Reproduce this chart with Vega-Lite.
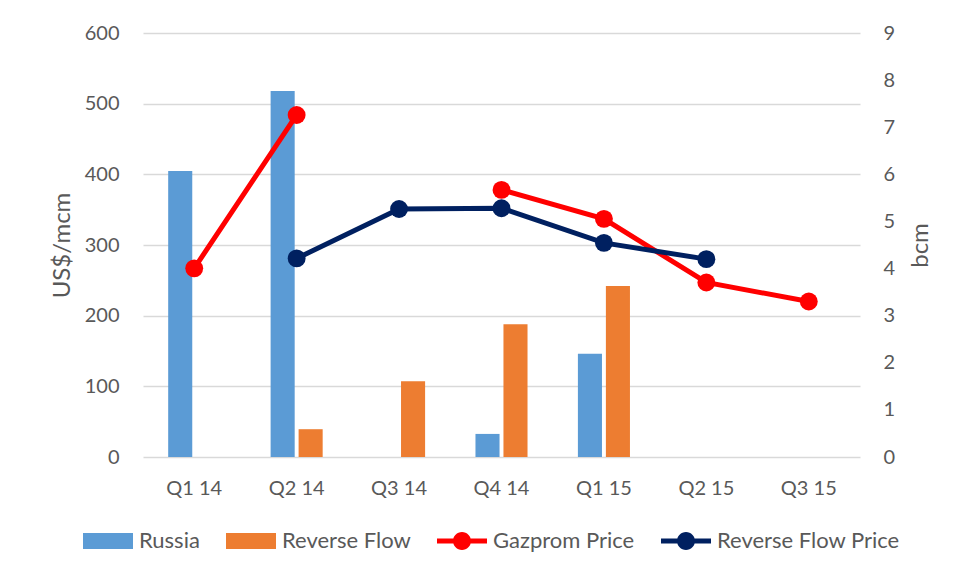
{
  "$schema": "https://vega.github.io/schema/vega-lite/v6.json",
  "width": 717,
  "height": 424,
  "autosize": "none",
  "padding": {"left": 143, "top": 33, "right": 97, "bottom": 118},
  "background": "white",
  "config": {
    "font": "Lato",
    "view": {"stroke": null},
    "axis": {
      "labelFont": "Lato",
      "labelFontSize": 20,
      "labelColor": "#595959",
      "titleFont": "Lato",
      "titleFontSize": 24,
      "titleFontWeight": "normal",
      "titleColor": "#595959",
      "ticks": false,
      "domain": false,
      "gridColor": "#d9d9d9",
      "gridWidth": 1.5
    }
  },
  "data": {
    "values": [
      {"q": "Q1 14", "Russia": 6.07, "Reverse Flow": null, "Gazprom Price": 267, "Reverse Flow Price": null},
      {"q": "Q2 14", "Russia": 7.77, "Reverse Flow": 0.59, "Gazprom Price": 484, "Reverse Flow Price": 281},
      {"q": "Q3 14", "Russia": null, "Reverse Flow": 1.61, "Gazprom Price": null, "Reverse Flow Price": 351},
      {"q": "Q4 14", "Russia": 0.49, "Reverse Flow": 2.82, "Gazprom Price": 378, "Reverse Flow Price": 352},
      {"q": "Q1 15", "Russia": 2.19, "Reverse Flow": 3.63, "Gazprom Price": 337, "Reverse Flow Price": 303},
      {"q": "Q2 15", "Russia": null, "Reverse Flow": null, "Gazprom Price": 247, "Reverse Flow Price": 280},
      {"q": "Q3 15", "Russia": null, "Reverse Flow": null, "Gazprom Price": 220, "Reverse Flow Price": null}
    ]
  },
  "transform": [
    {"fold": ["Russia", "Reverse Flow", "Gazprom Price", "Reverse Flow Price"], "as": ["series", "value"]}
  ],
  "encoding": {
    "x": {
      "field": "q",
      "type": "nominal",
      "sort": null,
      "scale": {"paddingInner": 0, "paddingOuter": 0},
      "axis": {"title": null, "labelAngle": 0, "labelPadding": 21, "grid": false}
    }
  },
  "layer": [
    {
      "transform": [{"filter": "datum.series === 'Russia' || datum.series === 'Reverse Flow'"}],
      "mark": {"type": "bar"},
      "encoding": {
        "xOffset": {
          "field": "series",
          "type": "nominal",
          "sort": ["Russia", "Reverse Flow"],
          "scale": {"domain": ["Russia", "Reverse Flow"], "paddingInner": 0.14, "paddingOuter": 0.9}
        },
        "y": {
          "field": "value",
          "type": "quantitative",
          "scale": {"domain": [0, 9], "nice": false},
          "axis": {"orient": "right", "title": "bcm", "titleAngle": 270, "values": [0,1,2,3,4,5,6,7,8,9], "grid": false, "labelPadding": 23, "titlePadding": 38}
        },
        "color": {
          "field": "series",
          "type": "nominal",
          "scale": {
            "domain": ["Russia", "Reverse Flow", "Gazprom Price", "Reverse Flow Price"],
            "range": ["#5b9bd5", "#ed7d31", "#ff0000", "#002060"]
          },
          "legend": {
            "title": null,
            "orient": "none",
            "direction": "horizontal",
            "legendX": -60,
            "legendY": 483,
            "symbolSize": 2500,
            "labelFont": "Lato",
            "labelFontSize": 22,
            "labelLimit": 400,
            "labelColor": "#595959",
            "labelOffset": 6,
            "columnPadding": 26,
            "encode": {
              "symbols": {
                "update": {
                  "shape": {"signal": "(datum.value === 'Russia' || datum.value === 'Reverse Flow') ? 'M-1,-0.32H1V0.32H-1Z' : 'M-1,-0.1H1V0.1H-1Z M-0.36,0A0.36,0.36 0 1,1 0.36,0A0.36,0.36 0 1,1 -0.36,0Z'"},
                  "fill": {"scale": "color", "field": "value"},
                  "stroke": {"value": "transparent"},
                  "strokeWidth": {"value": 0},
                  "opacity": {"value": 1},
                  "fillOpacity": {"value": 1}
                }
              }
            }
          }
        }
      }
    },
    {
      "transform": [{"filter": "datum.series === 'Gazprom Price' || datum.series === 'Reverse Flow Price'"}],
      "mark": {
        "type": "line",
        "strokeWidth": 5,
        "invalid": "break-paths-show-domains",
        "point": {"size": 320, "filled": true, "opacity": 1}
      },
      "encoding": {
        "y": {
          "field": "value",
          "type": "quantitative",
          "scale": {"domain": [0, 600], "nice": false},
          "axis": {"orient": "left", "title": "US$/mcm", "values": [0,100,200,300,400,500,600], "grid": true, "labelPadding": 24, "titlePadding": 10}
        },
        "color": {"field": "series", "type": "nominal"}
      }
    }
  ],
  "resolve": {"scale": {"y": "independent"}}
}
